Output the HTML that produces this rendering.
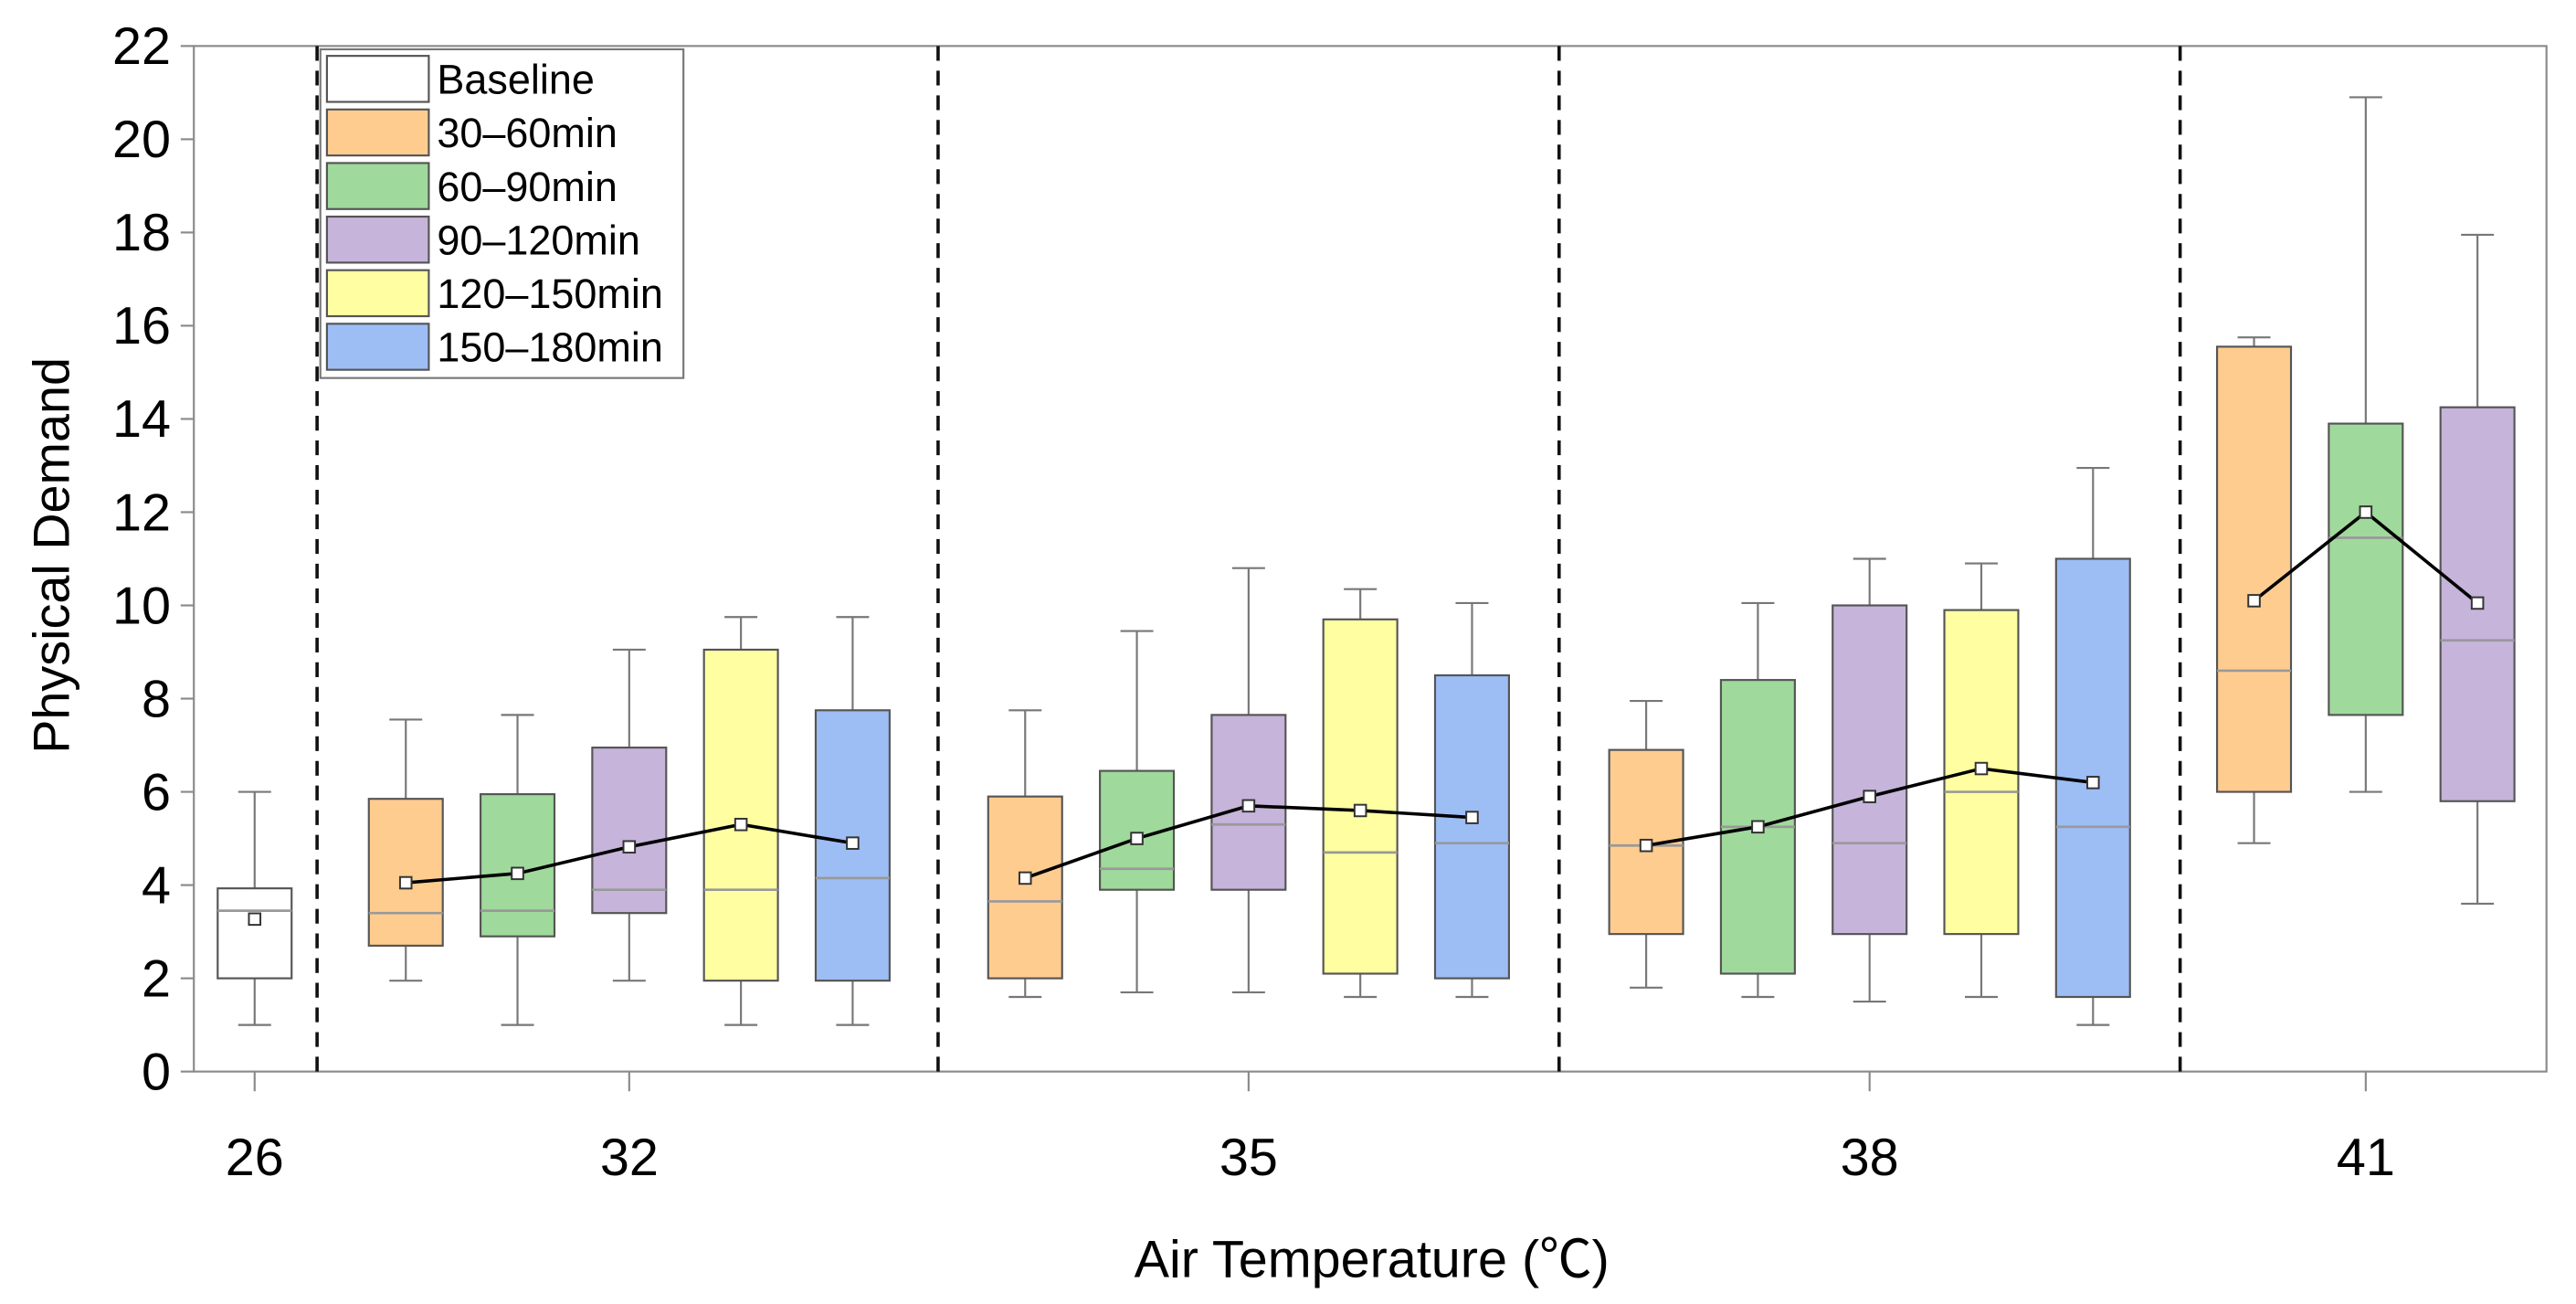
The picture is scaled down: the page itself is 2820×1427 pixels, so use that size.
<!DOCTYPE html>
<html><head><meta charset="utf-8"><style>html,body{margin:0;padding:0;background:#fff}svg{display:block}</style></head>
<body>
<svg id="chart" width="2820" height="1427" viewBox="0 0 2820 1427" xmlns="http://www.w3.org/2000/svg" font-family="'Liberation Sans', Arial, sans-serif">
<g id="root" transform="scale(1.7985)"></g>
</svg>
<script>
const groupLabels = ["26","32","35","38","41"];
const seriesNames = ["Baseline","30–60min","60–90min","90–120min","120–150min","150–180min"];
const seriesColors = ["#ffffff","#ffcc90","#9fd99b","#c6b4da","#ffffa2","#9dbdf5"];
// each box: [group index, series index, whiskerLow, q1, median, q3, whiskerHigh, mean]
const boxes = [
 [0,0,1.0,2.0,3.45,3.93,6.0,3.27],
 [1,1,1.95,2.7,3.4,5.85,7.55,4.05],
 [1,2,1.0,2.9,3.45,5.95,7.65,4.25],
 [1,3,1.95,3.4,3.9,6.95,9.05,4.82],
 [1,4,1.0,1.95,3.9,9.05,9.75,5.3],
 [1,5,1.0,1.95,4.15,7.75,9.75,4.9],
 [2,1,1.6,2.0,3.65,5.9,7.75,4.15],
 [2,2,1.7,3.9,4.35,6.45,9.45,5.0],
 [2,3,1.7,3.9,5.3,7.65,10.8,5.7],
 [2,4,1.6,2.1,4.7,9.7,10.35,5.6],
 [2,5,1.6,2.0,4.9,8.5,10.05,5.45],
 [3,1,1.8,2.95,4.85,6.9,7.95,4.85],
 [3,2,1.6,2.1,5.25,8.4,10.05,5.25],
 [3,3,1.5,2.95,4.9,10.0,11.0,5.9],
 [3,4,1.6,2.95,6.0,9.9,10.9,6.5],
 [3,5,1.0,1.6,5.25,11.0,12.95,6.2],
 [4,1,4.9,6.0,8.6,15.55,15.75,10.1],
 [4,2,6.0,7.65,11.45,13.9,20.9,12.0],
 [4,3,3.6,5.8,9.25,14.25,17.95,10.05]
];
const yTicks = [0,2,4,6,8,10,12,14,16,18,20,22];

const NS="http://www.w3.org/2000/svg";
const root=document.getElementById('root');
const NARROW="'Liberation Sans Narrow','Arial Narrow','Liberation Sans',sans-serif";
const L=118,R=1550,T=28,B=652;
const groupCenters=[155,383,760,1138,1440];
const groupCenterSeries=[0,3,3,3,2];
const slot=68;
const y=v=>B-(v/22)*(B-T);
const x=(g,s)=>groupCenters[g]+(s-groupCenterSeries[g])*slot;
function el(tag,attrs,parent){const e=document.createElementNS(NS,tag);for(const k in attrs)e.setAttribute(k,attrs[k]);(parent||root).appendChild(e);return e;}

let fr=el('rect',{x:L,y:T,width:R-L,height:B-T,fill:'none',stroke:'#8a8a8a','stroke-width':1.2});



[193,571,949,1327].forEach((sx,i)=>{
 const d=el('line',{x1:sx,x2:sx,y1:T,y2:B,stroke:'#111','stroke-width':2,'stroke-dasharray':'9,6'});
 
 
});

yTicks.forEach(t=>{
 const ln=el('line',{x1:L-8,x2:L,y1:y(t),y2:y(t),stroke:'#8a8a8a','stroke-width':1.2});
 
 
 const tx=el('text',{x:L-14,y:y(t)+11,'text-anchor':'end','font-size':32,fill:'#000','font-family':NARROW});
 tx.textContent=t;
 
 
});
groupLabels.forEach((lab,g)=>{
 const ln=el('line',{x1:groupCenters[g],x2:groupCenters[g],y1:B,y2:B+12,stroke:'#8a8a8a','stroke-width':1.2});
 
 
 const tx=el('text',{x:groupCenters[g],y:715,'text-anchor':'middle','font-size':32,fill:'#000','font-family':NARROW});
 tx.textContent=lab;
 
 
});

const hw=22.5;
boxes.forEach(b=>{
 const [g,s,wl,q1,md,q3,wh,mn]=b;
 const cx=x(g,s);
 const grp=el('g',{});
 
 
 el('line',{x1:cx,x2:cx,y1:y(wh),y2:y(q3),stroke:'#777','stroke-width':1.2},grp);
 el('line',{x1:cx,x2:cx,y1:y(q1),y2:y(wl),stroke:'#777','stroke-width':1.2},grp);
 el('line',{x1:cx-10,x2:cx+10,y1:y(wh),y2:y(wh),stroke:'#777','stroke-width':1.2},grp);
 el('line',{x1:cx-10,x2:cx+10,y1:y(wl),y2:y(wl),stroke:'#777','stroke-width':1.2},grp);
 el('rect',{x:cx-hw,y:y(q3),width:hw*2,height:y(q1)-y(q3),fill:seriesColors[s],stroke:'#555','stroke-width':1.2},grp);
 el('line',{x1:cx-hw,x2:cx+hw,y1:y(md),y2:y(md),stroke:'#999','stroke-width':1.5},grp);
});
for(let g=1;g<groupLabels.length;g++){
 const pts=boxes.filter(b=>b[0]===g).map(b=>x(b[0],b[1])+','+y(b[7])).join(' ');
 const pl=el('polyline',{points:pts,fill:'none',stroke:'#000','stroke-width':2});
 
 
}
boxes.forEach(b=>{
 const cx=x(b[0],b[1]);
 const m=el('rect',{x:cx-3.5,y:y(b[7])-3.5,width:7,height:7,fill:'#fff',stroke:'#333','stroke-width':1.1});
 
 
});

const lg=el('g',{});


el('rect',{x:195,y:30,width:221,height:200,fill:'#fff',stroke:'#777','stroke-width':1.2},lg);
seriesNames.forEach((n,i)=>{
 const ry=34+i*32.6;
 const e=el('g',{},lg);
 
 
 el('rect',{x:199,y:ry,width:62,height:28,fill:seriesColors[i],stroke:'#555','stroke-width':1.2},e);
 const t=el('text',{x:266,y:ry+23,'font-size':25,fill:'#000','font-family':NARROW},e);
 t.textContent=n;
});

const yt=el('text',{x:0,y:0,'text-anchor':'middle','font-size':31,fill:'#000',transform:'translate(42,338) rotate(-90)'});
yt.textContent='Physical Demand';


const xt=el('text',{x:835,y:777,'text-anchor':'middle','font-size':32,fill:'#000','font-family':"'Liberation Sans','Noto Sans CJK SC',sans-serif"});
xt.textContent='Air Temperature (℃)';


</script>
</body></html>
